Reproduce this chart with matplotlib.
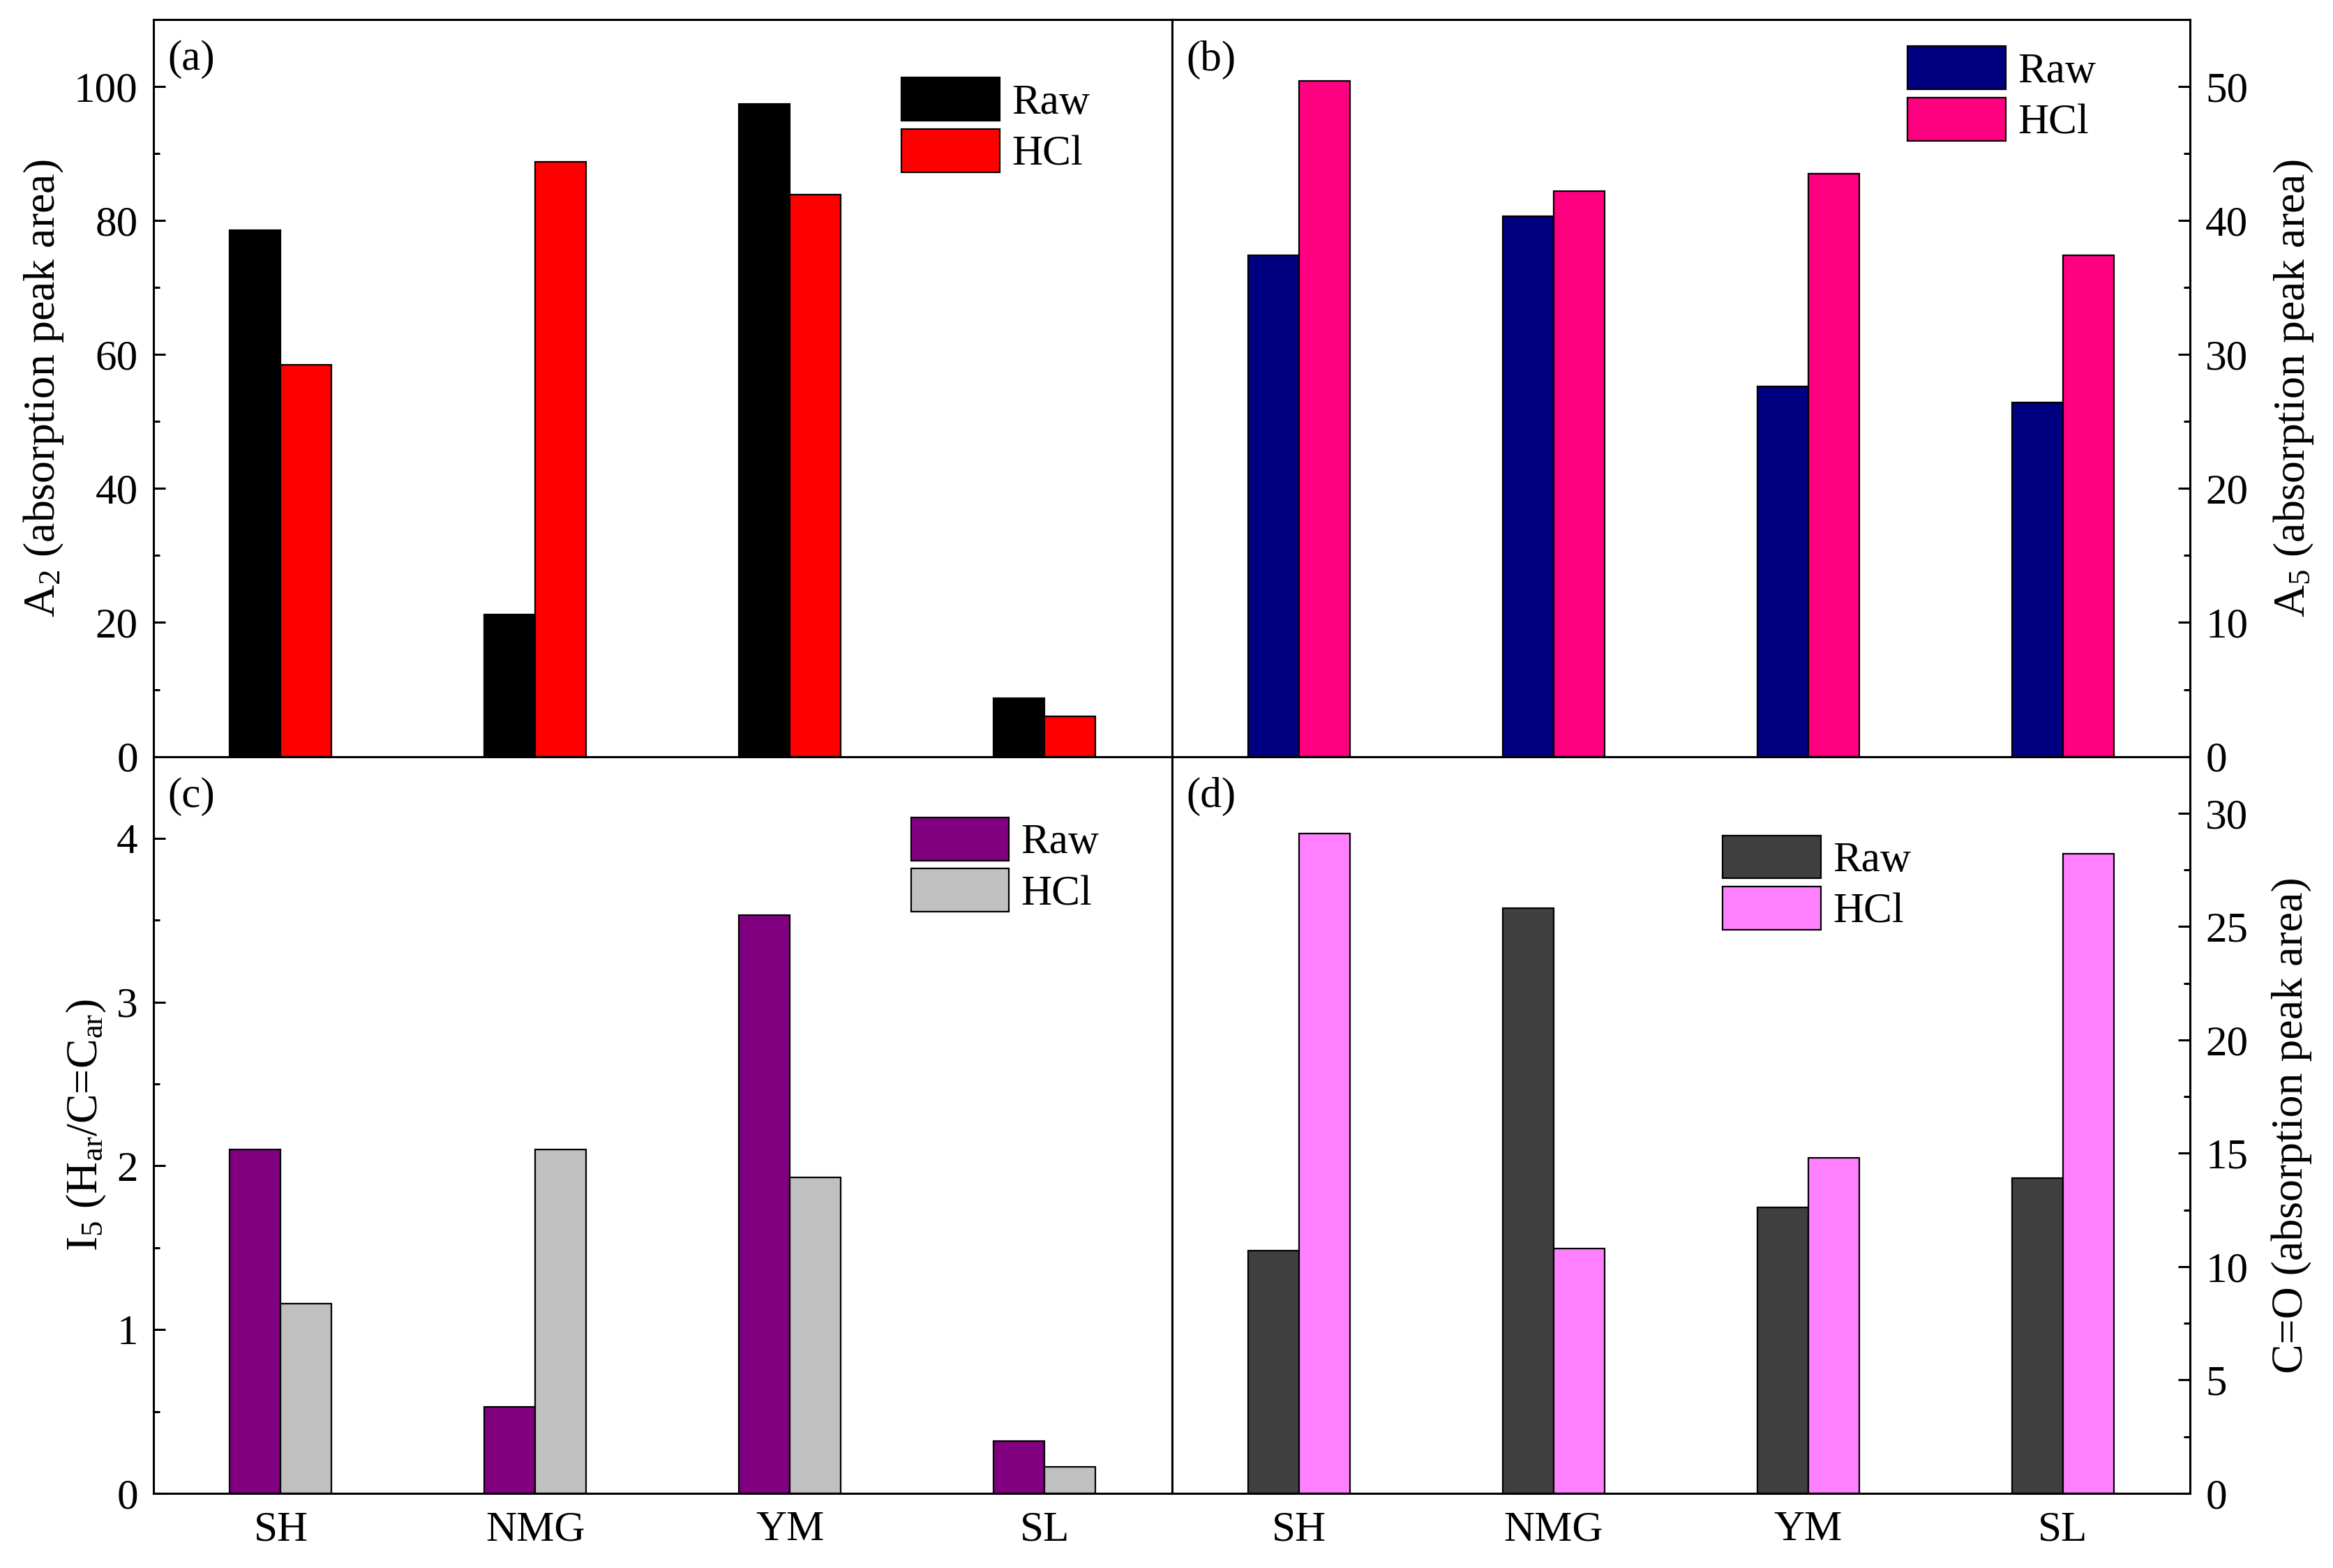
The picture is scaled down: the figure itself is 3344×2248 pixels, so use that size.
import matplotlib
matplotlib.use('Agg')
import matplotlib.pyplot as plt
import numpy as np
from matplotlib.ticker import MultipleLocator

plt.rcParams['font.family'] = ['Liberation Serif', 'DejaVu Serif']
plt.rcParams['mathtext.fontset'] = 'custom'
plt.rcParams['mathtext.rm'] = 'Liberation Serif'
plt.rcParams['mathtext.it'] = 'Liberation Serif:italic'
plt.rcParams['mathtext.bf'] = 'Liberation Serif:bold'

# data
samples = ['SH', 'NMG', 'YM', 'SL']
series = ['Raw', 'HCl']

a_raw = [78.6, 21.2, 97.4, 8.7]
a_hcl = [58.5, 88.8, 83.9, 6.0]
b_raw = [37.4, 40.3, 27.6, 26.4]
b_hcl = [50.4, 42.2, 43.5, 37.4]
c_raw = [2.10, 0.53, 3.53, 0.32]
c_hcl = [1.16, 2.10, 1.93, 0.16]
d_raw = [10.7, 25.8, 12.6, 13.9]
d_hcl = [29.1, 10.8, 14.8, 28.2]

FS = 22

fig, axs = plt.subplots(2, 2, figsize=(16.72, 11.24), dpi=200)
fig.subplots_adjust(left=0.0658, right=0.9387, top=0.9875, bottom=0.0476,
                    wspace=0, hspace=0)

panels = [
    # ax, raw, hcl, colours, ylim, major, minor, ylabel, tag, legend pos
    (axs[0, 0], a_raw, a_hcl, ('#000000', '#FF0000'), 110, 20, 10,
     r'A$_2$ (absorption peak area)', '(a)', (0.7346, 0.9216)),
    (axs[0, 1], b_raw, b_hcl, ('#000080', '#FF0080'), 55, 10, 5,
     r'A$_5$ (absorption peak area)', '(b)', (0.7228, 0.964)),
    (axs[1, 0], c_raw, c_hcl, ('#800080', '#C0C0C0'), 4.5, 1, 0.5,
     r'I$_5$ (H$_\mathrm{ar}$/C=C$_\mathrm{ar}$)', '(c)', (0.744, 0.9175)),
    (axs[1, 1], d_raw, d_hcl, ('#404040', '#FF80FF'), 32.5, 5, 2.5,
     'C=O (absorption peak area)', '(d)', (0.541, 0.893)),
]

x = np.arange(1, len(samples) + 1)
w = 0.2

for i, (ax, raw, hcl, cols, ymax, major, minor, ylab, tag, lpos) in enumerate(panels):
    ax.bar(x - w / 2, raw, w, color=cols[0], edgecolor='black', linewidth=0.8, label=series[0])
    ax.bar(x + w / 2, hcl, w, color=cols[1], edgecolor='black', linewidth=0.8, label=series[1])
    ax.set_xlim(0.5, 4.5)
    ax.set_ylim(0, ymax)
    ax.yaxis.set_major_locator(MultipleLocator(major))
    ax.yaxis.set_minor_locator(MultipleLocator(minor))
    ax.set_xticks(x)
    for sp in ax.spines.values():
        sp.set_linewidth(1.1)

    right = i % 2 == 1
    bottom = i >= 2
    if right:
        ax.yaxis.tick_right()
        ax.yaxis.set_label_position('right')
    ax.tick_params(axis='y', which='both', direction='in', labelsize=FS, width=1.1,
                   pad=8, left=not right, right=right)
    ax.tick_params(axis='y', which='major', length=6)
    ax.tick_params(axis='y', which='minor', length=3.2)
    ax.tick_params(axis='x', which='both', length=0, labelsize=FS, pad=9,
                   labelbottom=bottom)
    if bottom:
        ax.set_xticklabels(samples)
    ax.set_ylabel(ylab, fontsize=FS + 1, labelpad=4.5 if not right else 12)

    ax.text(0.014, 0.972, tag, transform=ax.transAxes, fontsize=FS, va='top', ha='left')
    ax.legend(frameon=False, loc='upper left', bbox_to_anchor=lpos, borderaxespad=0,
              borderpad=0, handlelength=2.3, handleheight=1.18, labelspacing=0.15,
              handletextpad=0.28, fontsize=FS)

fig.savefig('out.png', dpi=200)
